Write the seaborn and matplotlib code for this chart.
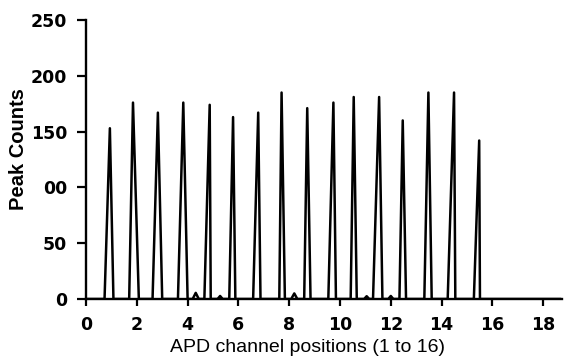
import matplotlib
matplotlib.use("Agg")
import matplotlib.pyplot as plt
import seaborn as sns
import pandas as pd

# Peak data
peak_pos = [0.94, 1.85, 2.83, 3.83, 4.87, 5.79, 6.78, 7.70, 8.71, 9.74,
            10.54, 11.54, 12.47, 13.48, 14.49, 15.48]
peak_height = [153, 176, 167, 176, 174, 163, 167, 185, 171, 176,
               181, 181, 160, 185, 185, 142]
peak_left = [0.73, 1.70, 2.62, 3.62, 4.66, 5.64, 6.58, 7.61, 8.59, 9.54,
             10.42, 11.30, 12.34, 13.32, 14.24, 15.27]
peak_right = [1.08, 2.08, 3.00, 4.00, 4.91, 5.88, 6.87, 7.83, 8.84, 9.84,
              10.66, 11.67, 12.60, 13.61, 14.54, 15.51]

bump_pos = [4.32, 5.28, 8.20, 11.05, 12.00]
bump_height = [5.5, 2.7, 5.0, 2.5, 2.7]
bump_half = [0.12, 0.10, 0.12, 0.10, 0.10]

y_ticks = [0, 50, 100, 150, 200, 250]
y_tick_labels = ["0", "50", "00", "150", "200", "250"]
x_ticks = [0, 2, 4, 6, 8, 10, 12, 14, 16, 18]

# Build the trace table
events = []
for p, h, l, r in zip(peak_pos, peak_height, peak_left, peak_right):
    events.append((p, [(l, 0), (p, h), (r, 0)]))
for b, h, w in zip(bump_pos, bump_height, bump_half):
    events.append((b, [(b - w, 0), (b, h), (b + w, 0)]))
events.sort(key=lambda e: e[0])
xs, ys = [0.0], [0.0]
for _, pts in events:
    for x, y in pts:
        xs.append(x)
        ys.append(y)
xs.append(18.7)
ys.append(0.0)
df = pd.DataFrame({"x": xs, "y": ys})

sns.set_style("white")
plt.rcParams["font.family"] = ["Liberation Sans", "DejaVu Sans"]
plt.rcParams["text.color"] = "black"
plt.rcParams["axes.labelcolor"] = "black"

fig = plt.figure(figsize=(5.64, 3.60), dpi=100)
ax = fig.add_axes([86 / 564, 61 / 360, 476 / 564, 279 / 360])
sns.lineplot(data=df, x="x", y="y", sort=False, estimator=None,
             color="black", linewidth=1.8, ax=ax)

ax.set_xlim(0, 476 / 25.4)
ax.set_ylim(0, 250)
ax.set_xticks(x_ticks)
ax.set_xticklabels([str(t) for t in x_ticks], fontsize=12.5, fontweight="bold",
                   family="DejaVu Sans")
ax.set_yticks(y_ticks)
ax.set_yticklabels(y_tick_labels, fontsize=12.5, fontweight="bold",
                   family="DejaVu Sans")
ax.tick_params(axis="y", left=True, direction="out", length=6.5, width=1.6,
               pad=7, colors="black")
ax.tick_params(axis="x", bottom=True, direction="out", length=5, width=1.6,
               pad=7, colors="black")
for s in ["top", "right"]:
    ax.spines[s].set_visible(False)
for s in ["left", "bottom"]:
    ax.spines[s].set_linewidth(1.7)
    ax.spines[s].set_color("black")
ax.set_xlabel("APD channel positions (1 to 16)", fontsize=14, color="black")
ax.xaxis.set_label_coords((307 - 86) / 476, -(347 - 299) / 279)
ax.xaxis.label.set_va("center")
ax.set_ylabel("Peak Counts", fontsize=14.5, fontweight="bold", color="black")
ax.yaxis.set_label_coords((18.4 - 86) / 476, (299 - 149.5) / 279)
ax.yaxis.label.set_va("center")
ax.grid(False)

fig.savefig("out.png", dpi=100, facecolor="white")
